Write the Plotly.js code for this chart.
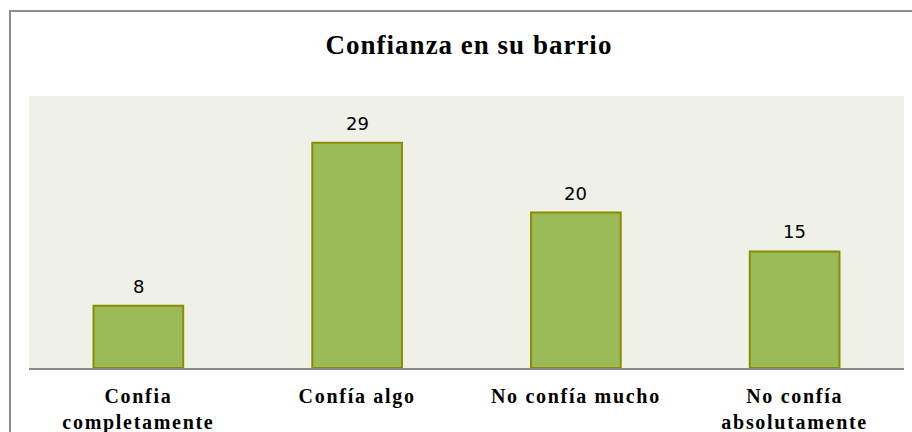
<!DOCTYPE html>
<html>
<head>
<meta charset="utf-8">
<script src="https://cdn.plot.ly/plotly-3.0.1.min.js"></script>
<style>
html,body{margin:0;padding:0;overflow:hidden;background:#fff;}
#chart{width:912px;height:432px;}
#frame{position:absolute;left:9px;top:10px;width:940px;height:460px;border:2px solid #8c8c8c;pointer-events:none;}
.xtick text{letter-spacing:1.7px;}
.gtitle{letter-spacing:1px;}
</style>
</head>
<body>
<div id="chart"></div>
<div id="frame"></div>
<script>
const categories = ["Confia<br>completamente", "Confía algo", "No confía mucho", "No confía<br>absolutamente"];
const values = [8, 29, 20, 15];

const trace = {
  type: 'bar',
  x: categories,
  y: values,
  marker: {color: '#9BBB59', line: {color: '#8A8C00', width: 2}},
  hoverinfo: 'none'
};

const annotations = categories.map((c, i) => ({
  x: c, y: values[i], xref: 'x', yref: 'y',
  text: String(values[i]),
  showarrow: false,
  yanchor: 'bottom', yshift: 7,
  font: {family: 'DejaVu Sans', size: 18, color: '#000'}
}));

const layout = {
  width: 912, height: 432,
  margin: {l: 29, r: 8, t: 96, b: 64},
  paper_bgcolor: '#ffffff',
  plot_bgcolor: '#EFF1E8',
  bargap: 0.59,
  showlegend: false,
  annotations: annotations,
  title: {
    text: '<b>Confianza en su barrio</b>',
    font: {family: 'Liberation Serif', size: 27, color: '#000'},
    x: 469/912, xanchor: 'center', xref: 'container',
    y: 1 - 45/432, yanchor: 'middle', yref: 'container'
  },
  xaxis: {
    type: 'category',
    showline: true, linecolor: '#888888', linewidth: 2,
    ticks: 'outside', ticklen: 9, tickcolor: 'rgba(0,0,0,0)',
    tickfont: {family: 'Liberation Serif', size: 20, color: '#000', weight: 'bold'},
    showgrid: false, fixedrange: true
  },
  yaxis: {
    range: [0, 35], visible: false, showgrid: false, zeroline: false, fixedrange: true
  }
};

Plotly.newPlot('chart', [trace], layout, {displayModeBar: false, staticPlot: true});
</script>
</body>
</html>
